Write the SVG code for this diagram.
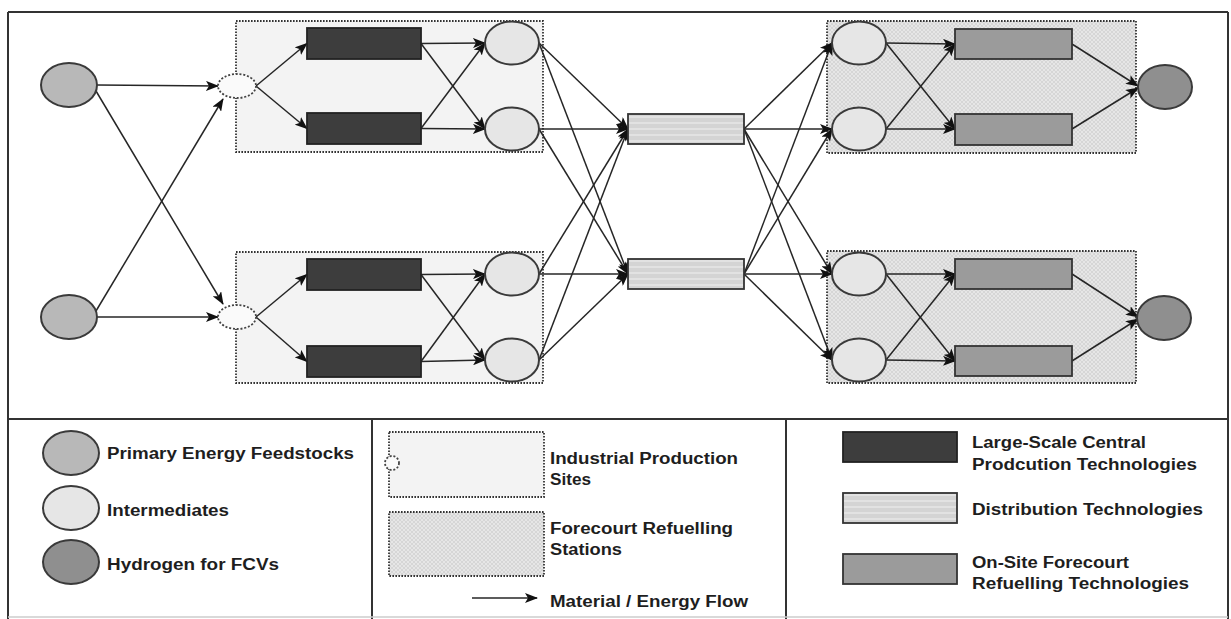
<svg xmlns="http://www.w3.org/2000/svg" width="1231" height="619" viewBox="0 0 1231 619">
<style>
.frame{fill:none;stroke:#333;stroke-width:2}
.site{fill:#f3f3f3;stroke:#333;stroke-width:1.8;stroke-dasharray:1.6 1.4}
.fore{fill:url(#hatch);stroke:#333;stroke-width:1.8;stroke-dasharray:1.6 1.4}
.dot{fill:#fafafa;stroke:#444;stroke-width:1.8;stroke-dasharray:2 1.8}
.feed{fill:#b8b8b8;stroke:#3a3a3a;stroke-width:2}
.inter{fill:#e6e6e6;stroke:#3a3a3a;stroke-width:2}
.hyd{fill:#8f8f8f;stroke:#3a3a3a;stroke-width:2}
.cen{fill:#3d3d3d;stroke:#222;stroke-width:1.8}
.dist{fill:url(#stripes);stroke:#333;stroke-width:1.8}
.ons{fill:#9b9b9b;stroke:#333;stroke-width:1.8}
.flow{fill:none;stroke:#262626;stroke-width:1.5;marker-end:url(#arr)}
.lbl{font-family:"Liberation Sans",Arial,sans-serif;font-weight:bold;font-size:16px;fill:#1e1e1e}
</style>
<defs>
<marker id="arr" markerUnits="userSpaceOnUse" markerWidth="13" markerHeight="10" refX="12" refY="5" orient="auto">
<path d="M0,0 L13,5 L0,10 L3,5 z" fill="#111"/>
</marker>
<pattern id="hatch" width="4" height="4" patternUnits="userSpaceOnUse">
<rect width="4" height="4" fill="#e6e6e6"/>
<path d="M0,0 L4,4 M4,0 L0,4" stroke="#d2d2d2" stroke-width="0.8"/>
</pattern>
<pattern id="stripes" width="6" height="6" patternUnits="userSpaceOnUse">
<rect width="6" height="6" fill="#d4d4d4"/>
<rect y="2" width="6" height="2" fill="#e2e2e2"/>
</pattern>
</defs>
<rect width="1231" height="619" fill="#fff"/>

<g id="frame">
<path class="frame" d="M8,12 H1228 M8,12 V619 M1228,12 V619 M8,419 H1228 M372,419 V619 M786,419 V619"/>
<path d="M8,617 H1228" stroke="#ccc" stroke-width="1.5" fill="none"/>
</g>

<g id="site-top"><rect class="site" x="236" y="21" width="307" height="131"/></g>
<g id="site-bottom"><rect class="site" x="236" y="252" width="307" height="131"/></g>
<g id="forecourt-top"><rect class="fore" x="827" y="21" width="309" height="132"/></g>
<g id="forecourt-bottom"><rect class="fore" x="827" y="251" width="309" height="132"/></g>

<g id="connectors">
<path class="flow" d="M97,85 L218,86"/>
<path class="flow" d="M96,91 L223,304"/>
<path class="flow" d="M96,311 L223,99"/>
<path class="flow" d="M97,317 L218,317"/>

<path class="flow" d="M256,86 L307,43.5"/>
<path class="flow" d="M256,86 L307,128.5"/>
<path class="flow" d="M256,317 L307,274.5"/>
<path class="flow" d="M256,317 L307,361.5"/>

<path class="flow" d="M421,43.5 L485,43"/>
<path class="flow" d="M421,43.5 L485,129"/>
<path class="flow" d="M421,128.5 L485,43"/>
<path class="flow" d="M421,128.5 L485,129"/>
<path class="flow" d="M421,274.5 L485,274"/>
<path class="flow" d="M421,274.5 L485,360"/>
<path class="flow" d="M421,361.5 L485,274"/>
<path class="flow" d="M421,361.5 L485,360"/>

<path class="flow" d="M539,43 L628,129"/>
<path class="flow" d="M539,43 L628,274"/>
<path class="flow" d="M539,129 L628,129"/>
<path class="flow" d="M539,129 L628,274"/>
<path class="flow" d="M539,274 L628,129"/>
<path class="flow" d="M539,274 L628,274"/>
<path class="flow" d="M539,360 L628,129"/>
<path class="flow" d="M539,360 L628,274"/>

<path class="flow" d="M744,129 L832,43"/>
<path class="flow" d="M744,129 L832,129"/>
<path class="flow" d="M744,129 L832,274"/>
<path class="flow" d="M744,129 L832,360"/>
<path class="flow" d="M744,274 L832,43"/>
<path class="flow" d="M744,274 L832,129"/>
<path class="flow" d="M744,274 L832,274"/>
<path class="flow" d="M744,274 L832,360"/>

<path class="flow" d="M886,43 L955,44"/>
<path class="flow" d="M886,43 L955,129"/>
<path class="flow" d="M886,129 L955,44"/>
<path class="flow" d="M886,129 L955,129"/>
<path class="flow" d="M886,274 L955,274"/>
<path class="flow" d="M886,274 L955,361"/>
<path class="flow" d="M886,360 L955,274"/>
<path class="flow" d="M886,360 L955,361"/>

<path class="flow" d="M1072,44 L1138,86"/>
<path class="flow" d="M1072,129 L1138,88"/>
<path class="flow" d="M1072,274 L1138,317"/>
<path class="flow" d="M1072,361 L1138,319"/>
</g>

<g id="feed-1"><ellipse class="feed" cx="69" cy="85" rx="28" ry="22"/></g>
<g id="feed-2"><ellipse class="feed" cx="69" cy="317" rx="28" ry="22"/></g>
<g id="site-in-1"><ellipse class="dot" cx="237" cy="86" rx="19" ry="12"/></g>
<g id="site-in-2"><ellipse class="dot" cx="237" cy="317" rx="19" ry="12"/></g>

<g id="central-1"><rect class="cen" x="307" y="28" width="114" height="31"/></g>
<g id="central-2"><rect class="cen" x="307" y="113" width="114" height="31"/></g>
<g id="central-3"><rect class="cen" x="307" y="259" width="114" height="31"/></g>
<g id="central-4"><rect class="cen" x="307" y="346" width="114" height="31"/></g>

<g id="inter-1"><ellipse class="inter" cx="512" cy="43" rx="27" ry="21.5"/></g>
<g id="inter-2"><ellipse class="inter" cx="512" cy="129" rx="27" ry="21.5"/></g>
<g id="inter-3"><ellipse class="inter" cx="512" cy="274" rx="27" ry="21.5"/></g>
<g id="inter-4"><ellipse class="inter" cx="512" cy="360" rx="27" ry="21.5"/></g>

<g id="dist-1"><rect class="dist" x="628" y="114" width="116" height="30"/></g>
<g id="dist-2"><rect class="dist" x="628" y="259" width="116" height="30"/></g>

<g id="inter-5"><ellipse class="inter" cx="859" cy="43" rx="27" ry="21.5"/></g>
<g id="inter-6"><ellipse class="inter" cx="859" cy="129" rx="27" ry="21.5"/></g>
<g id="inter-7"><ellipse class="inter" cx="859" cy="274" rx="27" ry="21.5"/></g>
<g id="inter-8"><ellipse class="inter" cx="859" cy="360" rx="27" ry="21.5"/></g>

<g id="onsite-1"><rect class="ons" x="955" y="29" width="117" height="30"/></g>
<g id="onsite-2"><rect class="ons" x="955" y="114" width="117" height="31"/></g>
<g id="onsite-3"><rect class="ons" x="955" y="259" width="117" height="30"/></g>
<g id="onsite-4"><rect class="ons" x="955" y="346" width="117" height="30"/></g>

<g id="hyd-1"><ellipse class="hyd" cx="1165" cy="87" rx="27" ry="22"/></g>
<g id="hyd-2"><ellipse class="hyd" cx="1164" cy="318" rx="27" ry="22"/></g>

<g id="legend-feed">
<ellipse class="feed" cx="71" cy="453" rx="28" ry="22"/>
<text class="lbl" x="107" y="459" textLength="247" lengthAdjust="spacingAndGlyphs">Primary Energy Feedstocks</text>
</g>
<g id="legend-inter">
<ellipse class="inter" cx="71" cy="508" rx="28" ry="22"/>
<text class="lbl" x="107" y="516" textLength="122" lengthAdjust="spacingAndGlyphs">Intermediates</text>
</g>
<g id="legend-hyd">
<ellipse class="hyd" cx="71" cy="562" rx="28" ry="22"/>
<text class="lbl" x="107" y="570" textLength="172" lengthAdjust="spacingAndGlyphs">Hydrogen for FCVs</text>
</g>
<g id="legend-site">
<rect class="site" x="389" y="432" width="155" height="65"/>
<ellipse class="dot" cx="392" cy="463" rx="7" ry="7"/>
<text class="lbl" x="550" y="464" textLength="188" lengthAdjust="spacingAndGlyphs">Industrial Production</text>
<text class="lbl" x="550" y="485" textLength="41" lengthAdjust="spacingAndGlyphs">Sites</text>
</g>
<g id="legend-fore">
<rect class="fore" x="389" y="512" width="155" height="64"/>
<text class="lbl" x="550" y="534" textLength="183" lengthAdjust="spacingAndGlyphs">Forecourt Refuelling</text>
<text class="lbl" x="550" y="555" textLength="72" lengthAdjust="spacingAndGlyphs">Stations</text>
</g>
<g id="legend-flow">
<path class="flow" d="M472,598 L537,598"/>
<text class="lbl" x="550" y="607" textLength="198" lengthAdjust="spacingAndGlyphs">Material / Energy Flow</text>
</g>
<g id="legend-central">
<rect class="cen" x="843" y="432" width="114" height="30"/>
<text class="lbl" x="972" y="448" textLength="174" lengthAdjust="spacingAndGlyphs">Large-Scale Central</text>
<text class="lbl" x="972" y="470" textLength="225" lengthAdjust="spacingAndGlyphs">Prodcution Technologies</text>
</g>
<g id="legend-dist">
<rect class="dist" x="843" y="493" width="114" height="30"/>
<text class="lbl" x="972" y="515" textLength="231" lengthAdjust="spacingAndGlyphs">Distribution Technologies</text>
</g>
<g id="legend-onsite">
<rect class="ons" x="843" y="554" width="114" height="30"/>
<text class="lbl" x="972" y="568" textLength="157" lengthAdjust="spacingAndGlyphs">On-Site Forecourt</text>
<text class="lbl" x="972" y="589" textLength="217" lengthAdjust="spacingAndGlyphs">Refuelling Technologies</text>
</g>
</svg>
